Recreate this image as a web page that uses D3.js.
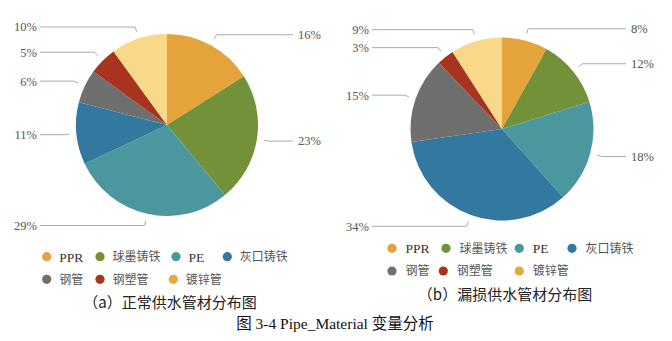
<!DOCTYPE html>
<html>
<head>
<meta charset="utf-8">
<script src="https://cdn.jsdelivr.net/npm/d3@7/dist/d3.min.js"></script>
<style>
  html, body { margin: 0; padding: 0; background: #fff; }
  svg { display: block; }
</style>
</head>
<body>
<svg id="chart" width="672" height="341"></svg>
<script>
// Pipe materials (legend order) and their shares in each group
const materials = ["PPR", "球墨铸铁", "PE", "灰口铸铁", "钢管", "钢塑管", "镀锌管"];
const normalShares = [16, 23, 29, 11, 6, 5, 10];   // 正常供水管材 (%)
const leakShares = [8, 12, 18, 34, 15, 3, 9];      // 漏损供水管材 (%)
const captions = ["（a）正常供水管材分布图", "（b）漏损供水管材分布图"];
const figureTitle = "图 3-4 Pipe_Material 变量分析";

const sliceColors = ["#E5A43B", "#739139", "#4A989E", "#33789F", "#6F6F6F", "#A8331F", "#F8D889"];
const legendColors = ["#E5A43B", "#739139", "#4A989E", "#33789F", "#6F6F6F", "#A8331F", "#E8A93C"];

const svg = d3.select("#chart");
const color = d3.scaleOrdinal().domain(materials).range(sliceColors);
const legendColor = d3.scaleOrdinal().domain(materials).range(legendColors);

const panels = [
  { values: normalShares, cx: 167, cy: 125, r: 91, leftX: 40, rightX: 293,
    legendX: [46.7, 100, 176, 227.3, 46.7, 100, 173.3], legendY: [256.7, 279.3],
    legendTextGap: 12.5, captionX: 170, captionY: 303 },
  { values: leakShares, cx: 502, cy: 129, r: 91.5, leftX: 372, rightX: 626,
    legendX: [392, 446, 519.3, 572, 392, 443.3, 519.3], legendY: [248.3, 271],
    legendTextGap: 13.5, captionX: 505, captionY: 294.5 }
];

const pie = d3.pie().sort(null).value(d => d.value);

panels.forEach((p, i) => {
  const data = materials.map((m, k) => ({ name: m, value: p.values[k] }));
  const arcs = pie(data);
  const g = svg.append("g").attr("transform", `translate(${p.cx},${p.cy})`);
  const arc = d3.arc().innerRadius(0).outerRadius(p.r);

  g.selectAll("path.slice")
    .data(arcs)
    .join("path")
    .attr("class", "slice")
    .attr("d", arc)
    .attr("fill", d => color(d.data.name));

  // Leader lines: short radial stub, then horizontal run to the label column
  const at = (a, rad) => [Math.sin(a) * rad, -Math.cos(a) * rad];
  arcs.forEach(d => {
    const mid = (d.startAngle + d.endAngle) / 2;
    const p1 = at(mid, p.r + 7);
    const p2 = at(mid, p.r + 12);
    const right = Math.sin(mid) > 0;
    const endX = (right ? p.rightX : p.leftX) - p.cx;
    g.append("polyline")
      .attr("points", [p1, p2, [endX, p2[1]]].map(q => q.join(",")).join(" "))
      .attr("fill", "none")
      .attr("stroke", "#ababab")
      .attr("stroke-width", 1);
    g.append("text")
      .attr("x", right ? endX + 5 : endX - 3)
      .attr("y", p2[1])
      .attr("dy", "0.35em")
      .attr("text-anchor", right ? "start" : "end")
      .attr("font-family", "'Liberation Serif', 'Times New Roman', serif")
      .attr("font-size", 12.5)
      .attr("fill", "#555")
      .text(d.data.value + "%");
  });

  // Legend: two rows of dots with names
  const lg = svg.append("g");
  materials.forEach((m, k) => {
    const x = p.legendX[k];
    const y = p.legendY[k < 4 ? 0 : 1];
    lg.append("circle")
      .attr("cx", x).attr("cy", y).attr("r", 4.6)
      .attr("fill", legendColor(m));
    const latin = /^[A-Z]+$/.test(m);
    lg.append("text")
      .attr("x", x + p.legendTextGap)
      .attr("y", y)
      .attr("dy", "0.36em")
      .attr("font-family", latin ? "'Liberation Serif', serif" : "'Noto Sans CJK SC', sans-serif")
      .attr("font-size", latin ? 13.5 : 12)
      .attr("fill", latin ? "#333" : "#555")
      .text(m);
  });

  svg.append("text")
    .attr("x", p.captionX)
    .attr("y", p.captionY)
    .attr("dy", "0.36em")
    .attr("text-anchor", "middle")
    .attr("font-family", "'Noto Sans CJK SC', sans-serif")
    .attr("font-size", 15)
    .attr("fill", "#222")
    .text(captions[i]);
});

svg.append("text")
  .attr("x", 335)
  .attr("y", 323.5)
  .attr("dy", "0.36em")
  .attr("text-anchor", "middle")
  .attr("font-family", "'Liberation Serif', 'Noto Sans CJK SC', serif")
  .attr("font-size", 15.5)
  .attr("fill", "#111")
  .text(figureTitle);
</script>
</body>
</html>
